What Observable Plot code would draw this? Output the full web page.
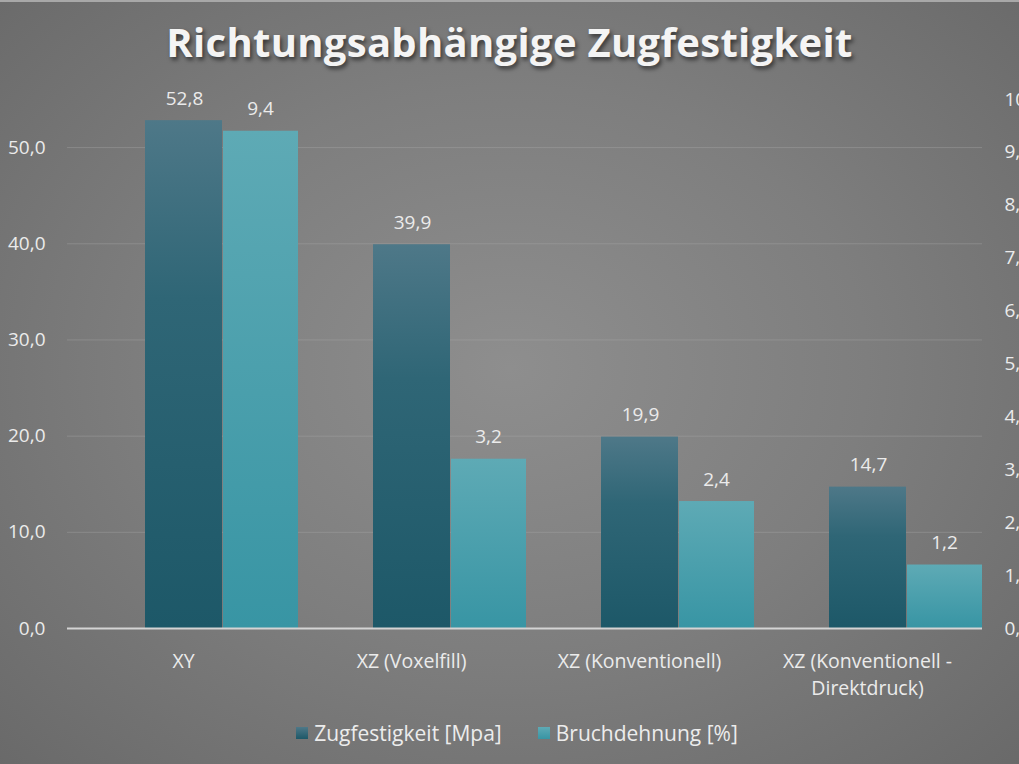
<!DOCTYPE html>
<html>
<head>
<meta charset="utf-8">
<script src="https://cdn.jsdelivr.net/npm/d3@7"></script>
<script src="https://cdn.jsdelivr.net/npm/@observablehq/plot@0.6"></script>
<style>
  html, body { margin: 0; padding: 0; }
  #chart {
    position: relative; width: 1019px; height: 764px; overflow: hidden;
    background: radial-gradient(ellipse 78% 82% at 50% 48%, #8e8e8e 0%, #7e7e7e 45%, #656565 100%);
    font-family: "Open Sans", sans-serif;
    border-top: 2px solid #a8a8a8; box-sizing: border-box;
  }
  #title {
    position: absolute; left: 0; top: 0; width: 1019px; height: 80px; line-height: 80px;
    text-align: center; font-size: 40px; font-weight: 700; color: #f4f4f4;
    text-shadow: 2px 3px 4px rgba(0,0,0,0.55); letter-spacing: 0.3px;
  }
  #plot { position: absolute; left: 0; top: 74px; }
  #legend {
    position: absolute; left: 0; top: 716px; width: 1034px; height: 30px;
    display: flex; justify-content: center; align-items: center; gap: 36px;
    font-size: 21px; color: #ececec;
  }
  .item { display: flex; align-items: center; gap: 6px; }
  .sw { width: 12px; height: 12px; }
</style>
</head>
<body>
<div id="chart">
  <div id="title">Richtungsabhängige Zugfestigkeit</div>
  <div id="plot"></div>
  <div id="legend"></div>
</div>
<script>
const categories = ["XY", "XZ (Voxelfill)", "XZ (Konventionell)", "XZ (Konventionell -\nDirektdruck)"];
const zugfestigkeit = [52.8, 39.9, 19.9, 14.7];
const bruchdehnung = [9.4, 3.2, 2.4, 1.2];
const seriesNames = ["Zugfestigkeit [Mpa]", "Bruchdehnung [%]"];
const leftTicks = [0, 10, 20, 30, 40, 50];
const rightTicks = [0, 1, 2, 3, 4, 5, 6, 7, 8, 9, 10];
const leftMax = 55;   // left axis domain top
const rightMax = 10;  // right axis domain top
const ratio = leftMax / rightMax;

const fmt = v => v.toFixed(1).replace(".", ",");

const zData = categories.map((c, i) => ({cat: c, value: zugfestigkeit[i]}));
const bData = categories.map((c, i) => ({cat: c, value: bruchdehnung[i], y: bruchdehnung[i] * ratio}));

const defs = () => {
  const ns = "http://www.w3.org/2000/svg";
  const d = document.createElementNS(ns, "defs");
  d.innerHTML = `
    <linearGradient id="gDark" x1="0" y1="0" x2="0" y2="1">
      <stop offset="0" stop-color="#4e7888"/>
      <stop offset="0.35" stop-color="#2f6676"/>
      <stop offset="1" stop-color="#1d5868"/>
    </linearGradient>
    <linearGradient id="gLight" x1="0" y1="0" x2="0" y2="1">
      <stop offset="0" stop-color="#5eaab5"/>
      <stop offset="1" stop-color="#3895a4"/>
    </linearGradient>`;
  return d;
};

const txt = "#ebebeb";
const plot = Plot.plot({
  width: 1019,
  height: 634,
  marginLeft: 67,
  marginRight: 37,
  marginTop: 23,
  marginBottom: 82,
  style: {background: "transparent", fontFamily: "Open Sans, sans-serif", overflow: "visible"},
  x: {domain: categories, padding: 0},
  y: {domain: [0, leftMax]},
  marks: [
    defs,
    Plot.gridY(leftTicks.filter(t => t > 0), {stroke: "#b0b0b0", strokeOpacity: 0.35, strokeWidth: 1}),
    Plot.barY(zData, {x: "cat", y: "value", fill: "url(#gDark)", insetLeft: 76, insetRight: 75}),
    Plot.barY(bData, {x: "cat", y: "y", fill: "url(#gLight)", insetLeft: 154, insetRight: -1}),
    Plot.ruleY([0], {stroke: "#d4d4d4", strokeWidth: 2}),
    Plot.text(zData, {x: "cat", y: "value", text: d => fmt(d.value), dx: 1, dy: -22, fill: txt, fontSize: 19}),
    Plot.text(bData, {x: "cat", y: "y", text: d => fmt(d.value), dx: 77, dy: -22, fill: txt, fontSize: 19}),
    Plot.axisY({anchor: "left", ticks: leftTicks, tickSize: 0, tickPadding: 22, tickFormat: fmt, fill: txt, fontSize: 19, label: null}),
    Plot.axisY({anchor: "right", ticks: rightTicks.map(t => t * ratio), tickSize: 0, tickPadding: 22,
      tickFormat: d => fmt(d / ratio), fill: txt, fontSize: 19, label: null}),
    Plot.axisX({tickSize: 0, tickPadding: 20, fill: txt, fontSize: 19.5, lineHeight: 1.4, label: null})
  ]
});
document.getElementById("plot").appendChild(plot);

const legend = document.getElementById("legend");
const swFills = ["linear-gradient(#4e7888, #1d5868)", "linear-gradient(#5eaab5, #3895a4)"];
seriesNames.forEach((n, i) => {
  const it = document.createElement("div");
  it.className = "item";
  it.innerHTML = `<div class="sw" style="background:${swFills[i]}"></div><span>${n}</span>`;
  legend.appendChild(it);
});
</script>
</body>
</html>
